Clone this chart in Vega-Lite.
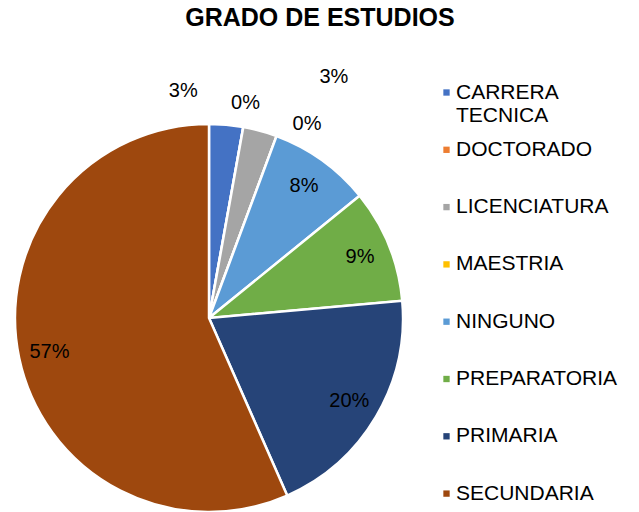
{
  "$schema": "https://vega.github.io/schema/vega-lite/v6.json",
  "autosize": "none",
  "width": 418,
  "height": 388,
  "padding": {"left": 0, "top": 124, "right": 221, "bottom": 0},
  "background": "white",
  "title": {
    "text": "GRADO DE ESTUDIOS",
    "font": "Liberation Sans",
    "fontSize": 25,
    "fontWeight": "bold",
    "color": "#000000",
    "anchor": "middle",
    "dx": 111,
    "offset": 27
  },
  "data": {
    "values": [
      {"grado": "CARRERA TECNICA", "n": 3, "pct": 0.0283},
      {"grado": "DOCTORADO", "n": 0, "pct": 0},
      {"grado": "LICENCIATURA", "n": 3, "pct": 0.0283},
      {"grado": "MAESTRIA", "n": 0, "pct": 0},
      {"grado": "NINGUNO", "n": 9, "pct": 0.0849},
      {"grado": "PREPARATORIA", "n": 10, "pct": 0.0943},
      {"grado": "PRIMARIA", "n": 21, "pct": 0.1981},
      {"grado": "SECUNDARIA", "n": 60, "pct": 0.566}
    ]
  },
  "encoding": {
    "theta": {"field": "n", "type": "quantitative", "stack": true}
  },
  "layer": [
    {
      "mark": {"type": "arc", "outerRadius": 194, "stroke": "white", "strokeWidth": 2.5},
      "encoding": {
        "color": {
          "field": "grado",
          "type": "nominal",
          "scale": {
            "domain": ["CARRERA TECNICA", "DOCTORADO", "LICENCIATURA", "MAESTRIA", "NINGUNO", "PREPARATORIA", "PRIMARIA", "SECUNDARIA"],
            "range": ["#4472C4", "#ED7D31", "#A5A5A5", "#FFC000", "#5B9BD5", "#70AD47", "#264478", "#9E480E"]
          },
          "legend": {
            "title": null,
            "orient": "none",
            "legendX": 436,
            "legendY": -42,
            "symbolType": "square",
            "symbolSize": 40,
            "symbolStrokeWidth": 0,
            "labelFont": "Liberation Sans",
            "labelFontSize": 21,
            "labelColor": "#000000",
            "labelLimit": 300,
            "rowPadding": 12.3,
            "labelOffset": -1,
            "labelExpr": "datum.label == 'CARRERA TECNICA' ? ['CARRERA', 'TECNICA'] : [datum.label, ' ']"
          }
        }
      }
    },
    {
      "mark": {"type": "text", "radius": 163, "font": "Liberation Sans", "fontSize": 20, "color": "#000000"},
      "encoding": {
        "text": {"field": "pct", "type": "quantitative", "format": ".0%", "condition": {"test": "datum.n < 5", "value": ""}}
      }
    },
    {
      "mark": {"type": "text", "radius": 228, "dx": -46, "font": "Liberation Sans", "fontSize": 20, "color": "#000000"},
      "encoding": {
        "text": {"field": "pct", "type": "quantitative", "format": ".0%", "condition": {"test": "datum.grado != 'CARRERA TECNICA'", "value": ""}}
      }
    },
    {
      "transform": [{"stack": "n", "groupby": [], "sort": [{"field": "grado"}], "as": ["n0", "n1"]}],
      "mark": {"type": "text", "radius": 218, "dx": -2, "font": "Liberation Sans", "fontSize": 20, "color": "#000000"},
      "encoding": {
        "theta": {"field": "n1", "type": "quantitative", "stack": null},
        "text": {"field": "pct", "type": "quantitative", "format": ".0%", "condition": {"test": "datum.grado != 'DOCTORADO'", "value": ""}}
      }
    },
    {
      "mark": {"type": "text", "radius": 250, "dx": 59, "font": "Liberation Sans", "fontSize": 20, "color": "#000000"},
      "encoding": {
        "text": {"field": "pct", "type": "quantitative", "format": ".0%", "condition": {"test": "datum.grado != 'LICENCIATURA'", "value": ""}}
      }
    },
    {
      "transform": [{"stack": "n", "groupby": [], "sort": [{"field": "grado"}], "as": ["n0", "n1"]}],
      "mark": {"type": "text", "radius": 207, "dx": 26, "font": "Liberation Sans", "fontSize": 20, "color": "#000000"},
      "encoding": {
        "theta": {"field": "n1", "type": "quantitative", "stack": null},
        "text": {"field": "pct", "type": "quantitative", "format": ".0%", "condition": {"test": "datum.grado != 'MAESTRIA'", "value": ""}}
      }
    }
  ]
}
